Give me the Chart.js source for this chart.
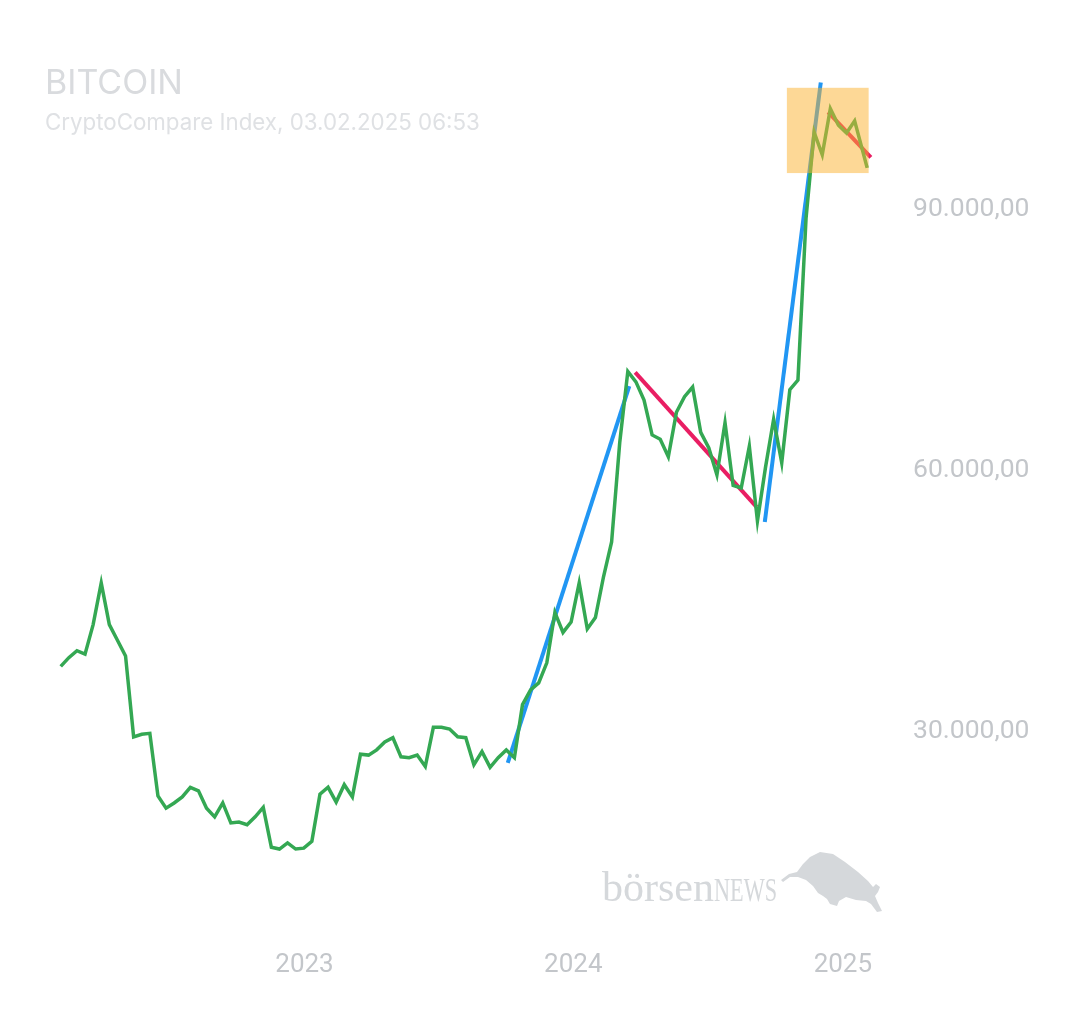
<!DOCTYPE html>
<html>
<head>
<meta charset="utf-8">
<script src="https://cdn.jsdelivr.net/npm/chart.js@4.4.1/dist/chart.umd.min.js"></script>
<style>
  html, body { margin: 0; background: #fff; }
  #contenedor { width: 1080px; height: 1013px; }
</style>
</head>
<body>
<div id="contenedor"><canvas id="graficoBitcoin"></canvas></div>
<script>
const DIA = 86400000;

// Kurs ca. alle 11 Tage, letzter Wert = 03.02.2025
const precios = [
    37200, 38200, 39000, 38600, 42000, 46800, 42000, 40200, 38400, 29100,
    29400, 29500, 22300, 20900, 21500, 22200, 23300, 22900, 20900, 19900,
    21500, 19200, 19300, 19000, 19900, 21000, 16400, 16200, 16900, 16200,
    16300, 17100, 22500, 23300, 21600, 23600, 22200, 27100, 27000, 27600,
    28500, 29000, 26800, 26700, 27000, 25700, 30200, 30200, 30000, 29100,
    29000, 25900, 27400, 25600, 26700, 27600, 26700, 32800, 34500, 35300,
    37600, 43400, 41100, 42300, 46800, 41500, 42800, 47500, 51500, 62900,
    71100, 69900, 67800, 63800, 63300, 61300, 66400, 68200, 69300, 64100,
    62300, 59200, 65200, 58000, 57700, 62500, 53900, 60100, 65600, 60600,
    69000, 70100, 88700, 98600, 96000, 101300, 99400, 98500, 99900, 94500
];
const primeraFecha = '2022-02-04';
const ultimaFecha = '2025-02-03';
const pasoDias = 11;

// Trendlinien [datum, kurs]
const tendenciaAzul1 = [['2023-10-04', 26100], ['2024-03-17', 69400]];
const tendenciaAzul2 = [['2024-09-17', 53800], ['2024-12-02', 104300]];
const tendenciaRoja1 = [['2024-03-25', 71000], ['2024-09-06', 55500]];
const tendenciaRoja2 = [['2024-12-12', 100900], ['2025-02-08', 95700]];

// markierter Bereich
const zonaFechas = ['2024-10-17', '2025-02-05'];
const zonaPrecios = [93900, 103700];

const ticksAnios = [2023, 2024, 2025];
const ticksPrecio = [30000, 60000, 90000];

const fechas = [];
for (let i = 0; i < precios.length - 1; i++) {
    fechas.push(Date.parse(primeraFecha) + i * pasoDias * DIA);
}
fechas.push(Date.parse(ultimaFecha));

function aPuntos(lista) {
    return lista.map(p => ({ x: Date.parse(p[0]), y: p[1] }));
}

function formatoPrecio(v) {
    const entero = Math.round(v).toString().replace(/\B(?=(\d{3})+(?!\d))/g, '.');
    return entero + ',00';
}

const colorTexto = '#c3c6ca';

const dibujoExtras = {
    id: 'dibujoExtras',
    beforeDatasetsDraw(chart) {
        const ctx = chart.ctx;
        ctx.save();
        // Titel
        ctx.fillStyle = '#d9dbde';
        ctx.font = '34px Inter';
        ctx.textBaseline = 'alphabetic';
        ctx.fillText('BITCOIN', 45, 94);
        ctx.fillStyle = '#dfe1e4';
        ctx.font = '22.3px Inter';
        ctx.fillText('CryptoCompare Index, 03.02.2025 06:53', 45, 130);

        // Wasserzeichen
        ctx.fillStyle = '#d5d8db';
        ctx.font = '42px "Liberation Serif"';
        const w1 = ctx.measureText('börsen').width;
        ctx.save();
        ctx.translate(602, 901);
        ctx.scale(112 / w1, 1);
        ctx.fillText('börsen', 0, 0);
        ctx.restore();
        ctx.font = '34px "Liberation Serif"';
        const w2 = ctx.measureText('NEWS').width;
        ctx.save();
        ctx.translate(714, 901);
        ctx.scale(63 / w2, 1);
        ctx.fillText('NEWS', 0, 0);
        ctx.restore();

        const toro = [
            [781, 880], [789, 874], [797, 872], [803, 864], [810, 857], [820, 852],
            [833, 854], [845, 862], [858, 872], [868, 881], [873, 887], [876, 884],
            [880, 887], [878, 892], [875, 896], [878, 903], [882, 911], [877, 912],
            [871, 904], [866, 901], [856, 900], [846, 897], [839, 901], [837, 906],
            [830, 904], [827, 899], [823, 896], [818, 893], [813, 886], [806, 880],
            [798, 877], [790, 877], [783, 882]
        ];
        ctx.beginPath();
        toro.forEach((p, i) => i ? ctx.lineTo(p[0], p[1]) : ctx.moveTo(p[0], p[1]));
        ctx.closePath();
        ctx.fill();
        ctx.restore();
    },
    afterDatasetsDraw(chart) {
        const ctx = chart.ctx;
        const x = chart.scales.x;
        const y = chart.scales.y;
        const x0 = x.getPixelForValue(Date.parse(zonaFechas[0]));
        const x1 = x.getPixelForValue(Date.parse(zonaFechas[1]));
        const y0 = y.getPixelForValue(zonaPrecios[1]);
        const y1 = y.getPixelForValue(zonaPrecios[0]);
        ctx.save();
        ctx.fillStyle = 'rgba(251, 177, 45, 0.5)';
        ctx.fillRect(x0, y0, x1 - x0, y1 - y0);
        ctx.restore();
    }
};

const ctx = document.getElementById('graficoBitcoin').getContext('2d');

new Chart(ctx, {
    type: 'line',
    data: {
        datasets: [
            {
                data: fechas.map((f, i) => ({ x: f, y: precios[i] })),
                borderColor: '#34a853',
                borderWidth: 3.5
            },
            { data: aPuntos(tendenciaAzul1), borderColor: '#2196f3', borderWidth: 4 },
            { data: aPuntos(tendenciaAzul2), borderColor: '#2196f3', borderWidth: 4 },
            { data: aPuntos(tendenciaRoja1), borderColor: '#e91e63', borderWidth: 4 },
            { data: aPuntos(tendenciaRoja2), borderColor: '#e91e63', borderWidth: 4 }
        ]
    },
    options: {
        responsive: true,
        maintainAspectRatio: false,
        animation: false,
        events: [],
        elements: {
            point: { radius: 0 },
            line: { tension: 0, fill: false }
        },
        layout: {
            padding: { left: 46, top: 33, right: 0, bottom: 0 }
        },
        plugins: {
            legend: { display: false },
            tooltip: { enabled: false }
        },
        scales: {
            x: {
                type: 'linear',
                min: Date.UTC(2022, 0, 15),
                max: Date.UTC(2025, 2, 6),
                grid: { display: false, drawTicks: false },
                border: { display: false },
                afterBuildTicks: scale => {
                    scale.ticks = ticksAnios.map(a => ({ value: Date.UTC(a, 0, 1) }));
                },
                afterFit: scale => {
                    scale.height = 66.5;
                    scale.paddingLeft = 0;
                    scale.paddingRight = 0;
                },
                ticks: {
                    autoSkip: false,
                    maxRotation: 0,
                    padding: 3,
                    color: colorTexto,
                    font: { family: 'Roboto', size: 26 },
                    callback: v => new Date(v).getUTCFullYear()
                }
            },
            y: {
                position: 'right',
                min: 5000,
                max: 110000,
                grid: { display: false, drawTicks: false },
                border: { display: false },
                afterBuildTicks: scale => {
                    scale.ticks = ticksPrecio.map(v => ({ value: v }));
                },
                afterFit: scale => {
                    scale.width = 190;
                    scale.paddingTop = 0;
                    scale.paddingBottom = 0;
                },
                ticks: {
                    padding: 23,
                    labelOffset: 2.5,
                    color: colorTexto,
                    font: { family: 'Roboto', size: 26.5 },
                    callback: v => formatoPrecio(v)
                }
            }
        }
    },
    plugins: [dibujoExtras]
});
</script>
</body>
</html>
